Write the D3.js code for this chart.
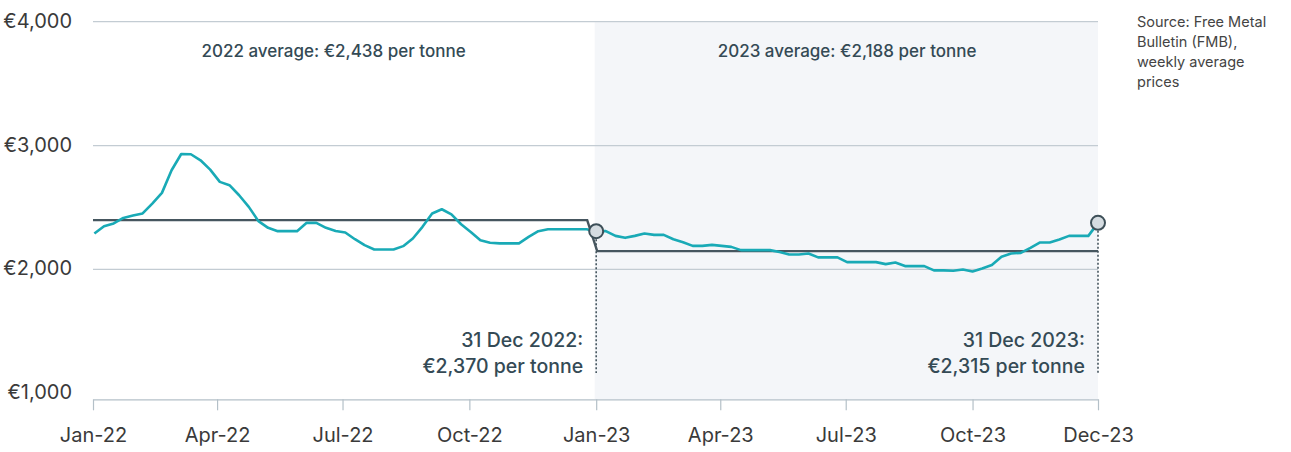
<!DOCTYPE html>
<html lang="en">
<head>
<meta charset="UTF-8">
<title>Steel scrap price 2022-2023</title>
<style>
    body { margin: 0; background: #FFFFFF; font-family: Inter, "Noto Sans", Arial, sans-serif; }
    #chart { width: 1291px; height: 452px; }
</style>
</head>
<body>
<div id="chart"></div>
<script src="https://cdn.jsdelivr.net/npm/d3@7"></script>
<script>
// Weekly average price, euro per tonne (first week 2 Jan 2022, last 31 Dec 2023)
const firstWeek = new Date(2022, 0, 2);
const prices = [
    2290, 2349, 2371, 2416, 2435, 2452, 2532, 2618, 2801, 2932,
    2930, 2881, 2806, 2707, 2680, 2599, 2505, 2390, 2336, 2309,
    2309, 2309, 2376, 2376, 2336, 2311, 2298, 2244, 2196, 2161,
    2161, 2161, 2188, 2250, 2344, 2452, 2486, 2444, 2365, 2303,
    2236, 2215, 2210, 2210, 2210, 2263, 2309, 2325, 2325, 2325,
    2325, 2325, 2309, 2309, 2271, 2255, 2271, 2290, 2279, 2279,
    2244, 2220, 2190, 2190, 2198, 2190, 2182, 2156, 2156, 2156,
    2156, 2140, 2121, 2121, 2129, 2097, 2097, 2097, 2059, 2059,
    2059, 2059, 2043, 2056, 2027, 2027, 2027, 1992, 1992, 1989,
    2000, 1984, 2008, 2035, 2102, 2129, 2134, 2174, 2218, 2218,
    2242, 2271, 2271, 2271, 2376
];

// Year averages as drawn (line levels) and their labels
const avgLevels = [2398, 2148];
const avgLabels = ["2022 average: €2,438 per tonne", "2023 average: €2,188 per tonne"];

// Year-end markers
const markerIndex = [52, 104];
const markerLines = [["31 Dec 2022:", "€2,370 per tonne"], ["31 Dec 2023:", "€2,315 per tonne"]];

const yTicks = [1000, 2000, 3000, 4000];
const yGrid = [2000, 3000, 4000];
const xTickDates = [
    new Date(2022, 0, 1), new Date(2022, 3, 1), new Date(2022, 6, 1), new Date(2022, 9, 1),
    new Date(2023, 0, 1), new Date(2023, 3, 1), new Date(2023, 6, 1), new Date(2023, 9, 1),
    new Date(2023, 11, 31)
];
const xTickLabels = ["Jan-22", "Apr-22", "Jul-22", "Oct-22", "Jan-23", "Apr-23", "Jul-23", "Oct-23", "Dec-23"];
const sourceLines = ["Source: Free Metal", "Bulletin (FMB),", "weekly average", "prices"];

const data = prices.map((v, i) => ({ date: d3.timeDay.offset(firstWeek, 7 * i), value: v }));

const width = 1291, height = 452;
const plotLeft = 93, plotRight = 1098, plotTop = 21.7, axisY = 399.3;

const svg = d3.select("#chart").append("svg")
    .attr("width", width)
    .attr("height", height);

const x = d3.scaleTime()
    .domain([new Date(2022, 0, 1), new Date(2023, 11, 31)])
    .range([plotLeft, plotRight]);

const y = d3.scaleLinear()
    .domain([1000, 4000])
    .range([393.3, plotTop]);

// 2023 shading
const yearStart = x(new Date(2023, 0, 1)) - 1.5;
svg.append("rect")
    .attr("x", yearStart)
    .attr("y", plotTop + 0.5)
    .attr("width", plotRight - yearStart)
    .attr("height", axisY - plotTop - 0.5)
    .attr("fill", "#F4F6F9");

// gridlines
svg.append("g")
    .selectAll("line")
    .data(yGrid)
    .join("line")
    .attr("x1", plotLeft)
    .attr("x2", plotRight)
    .attr("y1", d => y(d))
    .attr("y2", d => y(d))
    .attr("stroke", "#C3CCD3")
    .attr("stroke-width", 1.2);

// y labels
svg.append("g")
    .selectAll("text")
    .data(yTicks)
    .join("text")
    .attr("x", 72)
    .attr("y", d => y(d) - 1)
    .attr("dy", "0.35em")
    .attr("text-anchor", "end")
    .attr("font-size", "20px")
    .attr("fill", "#3A3A3A")
    .text(d => "€" + d3.format(",")(d));

// x axis
const xAxis = d3.axisBottom(x)
    .tickValues(xTickDates)
    .tickFormat((d, i) => xTickLabels[i])
    .tickSize(11)
    .tickSizeOuter(0)
    .tickPadding(18);

const gx = svg.append("g")
    .attr("transform", `translate(0,${axisY})`)
    .call(xAxis);
gx.select(".domain").attr("stroke", "#B4C0C8").attr("stroke-width", 1.2);
gx.selectAll(".tick line").attr("stroke", "#B4C0C8").attr("stroke-width", 1.2);
gx.selectAll(".tick text")
    .attr("font-family", "Inter, 'Noto Sans', Arial, sans-serif")
    .attr("font-size", "20px")
    .attr("fill", "#3A3A3A");

// average step line
const xSplit = x(new Date(2023, 0, 1));
const avgPts = [
    [plotLeft, y(avgLevels[0])],
    [xSplit - 9, y(avgLevels[0])],
    [xSplit + 1, y(avgLevels[1])],
    [plotRight, y(avgLevels[1])]
];
svg.append("path")
    .attr("d", d3.line()(avgPts))
    .attr("fill", "none")
    .attr("stroke", "#46565F")
    .attr("stroke-width", 2.4);

// average labels
const yearCentres = [(plotLeft + xSplit) / 2 - 11, (xSplit + plotRight) / 2];
svg.append("g")
    .selectAll("text")
    .data(avgLabels)
    .join("text")
    .attr("x", (d, i) => yearCentres[i])
    .attr("y", 57)
    .attr("text-anchor", "middle")
    .attr("font-size", "17px")
    .attr("font-weight", 500)
    .attr("fill", "#344A55")
    .text(d => d);

// price line
svg.append("path")
    .datum(data)
    .attr("d", d3.line().x(d => x(d.date)).y(d => y(d.value)))
    .attr("fill", "none")
    .attr("stroke", "#19AAB6")
    .attr("stroke-width", 2.6)
    .attr("stroke-linejoin", "round");

// year-end markers
const markers = markerIndex.map(i => data[i]);
svg.append("g")
    .selectAll("line")
    .data(markers)
    .join("line")
    .attr("x1", d => x(d.date))
    .attr("x2", d => x(d.date))
    .attr("y1", d => y(d.value) + 8)
    .attr("y2", 373)
    .attr("stroke", "#46565F")
    .attr("stroke-width", 1.6)
    .attr("stroke-dasharray", "2,2");

svg.append("g")
    .selectAll("circle")
    .data(markers)
    .join("circle")
    .attr("cx", d => x(d.date))
    .attr("cy", d => y(d.value))
    .attr("r", 7)
    .attr("fill", "#D5DCE1")
    .attr("stroke", "#3D4F58")
    .attr("stroke-width", 2);

// marker annotations
markers.forEach((d, i) => {
    const t = svg.append("text")
        .attr("x", x(d.date) - 13)
        .attr("y", 347)
        .attr("text-anchor", "end")
        .attr("font-size", "19.5px")
        .attr("font-weight", 500)
        .attr("fill", "#344A55");
    markerLines[i].forEach((line, j) => {
        t.append("tspan")
            .attr("x", x(d.date) - 13)
            .attr("dy", j === 0 ? 0 : 26)
            .text(line);
    });
});

// source note
svg.append("text")
    .attr("x", 1137)
    .attr("y", 27)
    .attr("font-size", "14.5px")
    .attr("fill", "#444")
    .selectAll("tspan")
    .data(sourceLines)
    .join("tspan")
    .attr("x", 1137)
    .attr("dy", (d, i) => i === 0 ? 0 : 20)
    .text(d => d);
</script>
</body>
</html>
